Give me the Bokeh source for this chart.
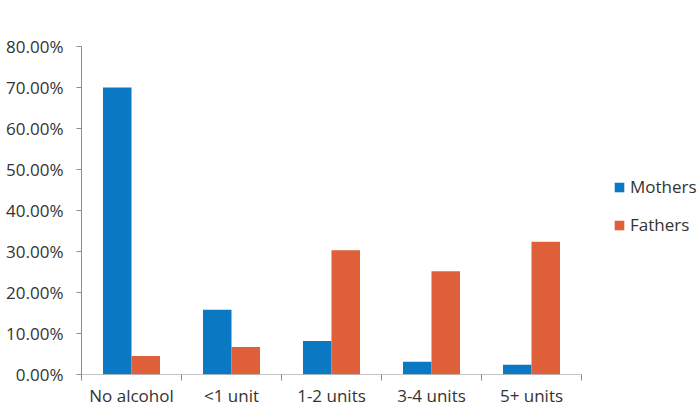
from bokeh.plotting import figure
from bokeh.models import (ColumnDataSource, FixedTicker, NumeralTickFormatter,
                          Range1d, Legend, LegendItem)
from bokeh.transform import dodge
from bokeh.embed import file_html
from bokeh.resources import INLINE

categories = ["No alcohol", "<1 unit", "1-2 units", "3-4 units", "5+ units"]
mothers = [0.700, 0.158, 0.082, 0.031, 0.024]
fathers = [0.045, 0.067, 0.303, 0.252, 0.324]
y_ticks = [0.0, 0.1, 0.2, 0.3, 0.4, 0.5, 0.6, 0.7, 0.8]

BLUE = "#0A78C2"
ORANGE = "#DF5F38"
AXIS = "#8C8C8C"
TEXT = "#333333"
FONT = "Open Sans"

W, H = 700, 409
LEFT, TOP, BOTTOM = 81, 46, 35
CAT_PX = 100  # pixel width of one category

n = len(categories)
centers = [i + 0.5 for i in range(n)]
src = ColumnDataSource(dict(x=centers, mothers=mothers, fathers=fathers))

x_end = (W - LEFT) / CAT_PX
p = figure(width=W, height=H, output_backend="svg", toolbar_location=None,
           x_range=Range1d(0, x_end), y_range=Range1d(0, 0.8),
           min_border_left=LEFT, min_border_right=0, min_border_top=TOP,
           min_border_bottom=BOTTOM)
p.outline_line_color = None
p.grid.grid_line_color = None

bw = 0.285
rm = p.vbar(x=dodge("x", -0.1425, range=p.x_range), top="mothers", width=bw,
            source=src, fill_color=BLUE, line_color=None)
rf = p.vbar(x=dodge("x", 0.1425, range=p.x_range), top="fathers", width=bw,
            source=src, fill_color=ORANGE, line_color=None)

# x axis line only across the categories
p.segment(x0=[0], y0=[0], x1=[n], y1=[0], line_color=AXIS, line_width=1)

xa = p.xaxis[0]
xa.ticker = FixedTicker(ticks=centers, minor_ticks=list(range(n + 1)))
xa.major_label_overrides = {c: lab for c, lab in zip(centers, categories)}
xa.major_tick_line_color = None
xa.major_tick_out = 0
xa.major_tick_in = 0
xa.minor_tick_line_color = AXIS
xa.minor_tick_out = 6
xa.minor_tick_in = 0
xa.axis_line_color = None
xa.major_label_text_font = FONT
xa.major_label_text_font_size = "17px"
xa.major_label_text_color = TEXT
xa.major_label_standoff = 3

ya = p.yaxis[0]
ya.ticker = FixedTicker(ticks=y_ticks, minor_ticks=[])
ya.formatter = NumeralTickFormatter(format="0.00%")
ya.axis_line_color = AXIS
ya.major_tick_line_color = AXIS
ya.major_tick_out = 5
ya.major_tick_in = 0
ya.minor_tick_line_color = None
ya.major_label_text_font = FONT
ya.major_label_text_font_size = "17px"
ya.major_label_text_color = TEXT
ya.major_label_standoff = 13

legend = Legend(items=[LegendItem(label="Mothers", renderers=[rm]),
                       LegendItem(label="Fathers", renderers=[rf])],
                location=(532, 138), orientation="vertical",
                border_line_color=None, background_fill_alpha=0,
                padding=0, margin=0, spacing=15,
                glyph_width=12, glyph_height=12, label_standoff=5,
                label_height=23,
                label_text_font=FONT, label_text_font_size="17px",
                label_text_color=TEXT)
p.add_layout(legend, "center")

with open("out.html", "w") as f:
    f.write(file_html(p, INLINE))
